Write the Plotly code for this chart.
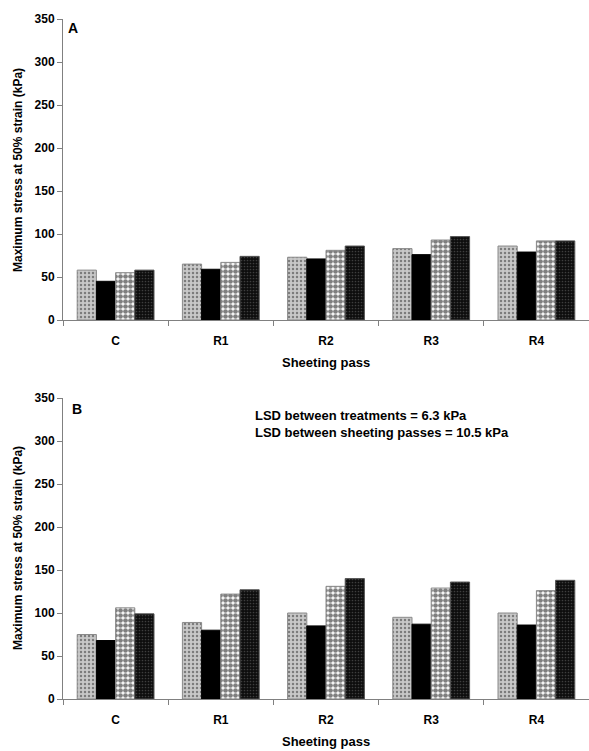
import plotly.graph_objects as go

categories = ["C", "R1", "R2", "R3", "R4"]

# Panel A values (kPa)
a_s1 = [58, 65, 73, 83, 86]
a_s2 = [45, 59, 71, 76, 79]
a_s3 = [55, 67, 81, 93, 92]
a_s4 = [58, 74, 86, 97, 92]

# Panel B values (kPa)
b_s1 = [75, 89, 100, 95, 100]
b_s2 = [68, 80, 85, 87, 86]
b_s3 = [106, 122, 131, 129, 126]
b_s4 = [99, 127, 140, 136, 138]

y_ticks = [0, 50, 100, 150, 200, 250, 300, 350]

FONT = "Liberation Sans, Arial, sans-serif"
AX = "#808080"

styles = [
    dict(color="#c4c4c4", pattern=dict(shape=".", bgcolor="#c8c8c8", fgcolor="#303030", size=4, solidity=0.3), line=dict(color="#8a8a8a", width=1)),
    dict(color="#000000", line=dict(color="#000000", width=1)),
    dict(color="#ffffff", pattern=dict(shape=".", bgcolor="#ffffff", fgcolor="#000000", size=5, solidity=0.7), line=dict(color="#8a8a8a", width=1)),
    dict(color="#111111", pattern=dict(shape=".", bgcolor="#0d0d0d", fgcolor="#707070", size=3, solidity=0.25), line=dict(color="#555555", width=1)),
]

fig = go.Figure()
for xa, ya, series in [("x", "y", [a_s1, a_s2, a_s3, a_s4]), ("x2", "y2", [b_s1, b_s2, b_s3, b_s4])]:
    for vals, st in zip(series, styles):
        fig.add_trace(go.Bar(x=categories, y=vals, xaxis=xa, yaxis=ya, marker=st, showlegend=False))

W, H = 589, 751
x0 = 63 / W
yA = [(H - 320) / H, (H - 19) / H]
yB = [(H - 699) / H, (H - 398) / H]

xcommon = dict(
    domain=[x0, 1.0], showline=True, linecolor=AX, linewidth=1,
    ticks="outside", ticklen=5, tickcolor=AX, tickson="boundaries",
    tickfont=dict(family=FONT, size=12, color="black", weight="bold"),
    ticklabelstandoff=10, showgrid=False, zeroline=False, fixedrange=True,
    automargin=False,
)
ycommon = dict(
    range=[0, 350], tickvals=y_ticks, showline=True, linecolor=AX, linewidth=1,
    ticks="outside", ticklen=5, tickcolor=AX,
    tickfont=dict(family=FONT, size=12, color="black", weight="bold"),
    showgrid=False, zeroline=False, fixedrange=True, automargin=False,
)

fig.update_layout(
    width=W, height=H, margin=dict(l=0, r=0, t=0, b=0, pad=0),
    paper_bgcolor="white", plot_bgcolor="white", showlegend=False,
    barmode="group", bargap=0.27, bargroupgap=0,
    xaxis=dict(**xcommon, anchor="y"),
    yaxis=dict(**ycommon, domain=yA, anchor="x"),
    xaxis2=dict(**xcommon, anchor="y2"),
    yaxis2=dict(**ycommon, domain=yB, anchor="x2"),
)

def ann(text, x, y, size=12, angle=0, xanchor="center", yanchor="middle", align="center"):
    fig.add_annotation(text=text, x=x / W, y=1 - y / H, xref="paper", yref="paper",
                       showarrow=False, textangle=angle, xanchor=xanchor, yanchor=yanchor, align=align,
                       font=dict(family=FONT, size=size, color="black", weight="bold"))

ytitle = "Maximum stress at 50% strain (kPa)"
ann(ytitle, 18, 170, angle=-90)
ann(ytitle, 18, 548, angle=-90)
ann("Sheeting pass", 326, 363, size=13)
ann("Sheeting pass", 326, 741, size=13)
ann("A", 66, 28, size=14, xanchor="left")
ann("B", 70, 409, size=14, xanchor="left")
ann("LSD between treatments = 6.3 kPa<br>LSD between sheeting passes = 10.5 kPa", 253, 424, size=13, xanchor="left", align="left")

fig.write_html("out.html", config={"displayModeBar": False},
               post_script="document.body.style.margin='0';document.body.style.overflow='hidden';")
